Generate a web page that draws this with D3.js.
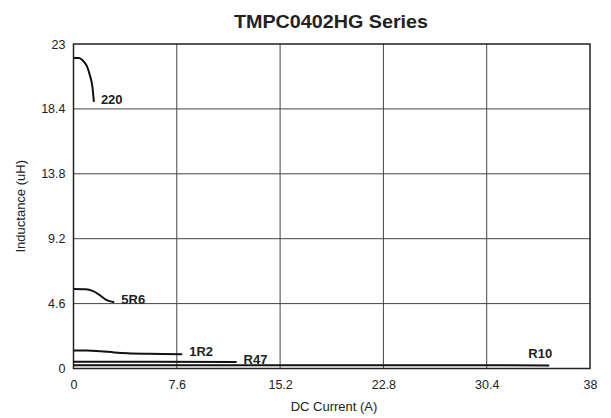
<!DOCTYPE html>
<html><head><meta charset="utf-8">
<script src="https://cdn.jsdelivr.net/npm/d3@7"></script>
<style>body{margin:0;background:#fff}svg{display:block}text{font-family:"Liberation Sans",Arial,sans-serif}</style>
</head><body><svg id="c" width="611" height="418"></svg>
<script>
const title = "TMPC0402HG Series";
const xLabel = "DC Current (A)";
const yLabel = "Inductance (uH)";
const xTicks = [0, 7.6, 15.2, 22.8, 30.4, 38];
const yTicks = [0, 4.6, 9.2, 13.8, 18.4, 23];
const seriesNames = ["220", "5R6", "1R2", "R47", "R10"];
const curve220 = [[0,22.0],[0.4,22.0],[0.6,21.9],[0.8,21.7],[1.0,21.4],[1.2,20.8],[1.4,19.9],[1.5,18.9]];
const curve5R6 = [[0,5.63],[0.9,5.61],[1.4,5.5],[1.9,5.22],[2.4,4.86],[3.0,4.7]];
const curve1R2 = [[0,1.27],[1.0,1.28],[2.0,1.22],[3.0,1.14],[4.0,1.08],[5.5,1.04],[8.0,1.01]];
const curveR47 = [[0,0.48],[6,0.47],[12,0.46]];
const curveR10 = [[0,0.23],[17,0.23],[35,0.22]];
const seriesData = [curve220, curve5R6, curve1R2, curveR47, curveR10];

const svg = d3.select("#c");
const m = {l:73.5, t:44, r:590, b:368.5};
const x = d3.scaleLinear().domain([0,38]).range([m.l, m.r]);
const y = d3.scaleLinear().domain([0,23]).range([m.b, m.t]);

// grid
svg.append("g").selectAll("line.v").data(xTicks.slice(1,-1)).join("line")
  .attr("x1", d=>x(d)).attr("x2", d=>x(d)).attr("y1", m.t).attr("y2", m.b)
  .attr("stroke", "#444").attr("stroke-width", 1);
svg.append("g").selectAll("line.h").data(yTicks.slice(1,-1)).join("line")
  .attr("y1", d=>y(d)).attr("y2", d=>y(d)).attr("x1", m.l).attr("x2", m.r)
  .attr("stroke", "#444").attr("stroke-width", 1);

const xAxis = d3.axisBottom(x).tickValues(xTicks).tickSize(0).tickPadding(12).tickFormat(d=>String(d));
const gx = svg.append("g").attr("transform", `translate(0,${m.b})`).call(xAxis);
gx.select(".domain").remove();
gx.selectAll("text").attr("font-size", 12.5).attr("fill", "#222").attr("font-family", "Liberation Sans, Arial, sans-serif");

const yAxis = d3.axisLeft(y).tickValues(yTicks).tickSize(0).tickPadding(8).tickFormat(d=>String(d));
const gy = svg.append("g").attr("transform", `translate(${m.l},0)`).call(yAxis);
gy.select(".domain").remove();
gy.selectAll("text").attr("font-size", 12.5).attr("fill", "#222").attr("font-family", "Liberation Sans, Arial, sans-serif");

svg.append("rect").attr("x", m.l).attr("y", m.t).attr("width", m.r-m.l).attr("height", m.b-m.t)
  .attr("fill", "none").attr("stroke", "#222").attr("stroke-width", 1.5);

const line = d3.line().x(d=>x(d[0])).y(d=>y(d[1])).curve(d3.curveMonotoneX);
svg.append("g").selectAll("path").data(seriesData).join("path")
  .attr("d", line).attr("fill", "none").attr("stroke", "#111").attr("stroke-width", 2);

seriesData.forEach((s, i) => {
  const last = s[s.length-1];
  const isLast = i === seriesData.length - 1;
  svg.append("text")
    .attr("x", x(last[0]) + (isLast ? 3 : 7))
    .attr("y", y(last[1]) + (isLast ? -7 : 2))
    .attr("text-anchor", isLast ? "end" : "start")
    .attr("font-size", 13).attr("font-weight", "bold").attr("fill", "#222")
    .text(seriesNames[i]);
});

svg.append("text").attr("x", 331).attr("y", 28).attr("text-anchor", "middle")
  .attr("font-size", 18).attr("font-weight", "bold").attr("fill", "#222")
  .attr("textLength", 194).attr("lengthAdjust", "spacingAndGlyphs").text(title);
svg.append("text").attr("x", 334).attr("y", 411).attr("text-anchor", "middle")
  .attr("font-size", 13).attr("fill", "#222").text(xLabel);
svg.append("text").attr("transform", `translate(25,${(m.t+m.b)/2}) rotate(-90)`)
  .attr("text-anchor", "middle").attr("font-size", 13).attr("fill", "#222").text(yLabel);
</script></body></html>
